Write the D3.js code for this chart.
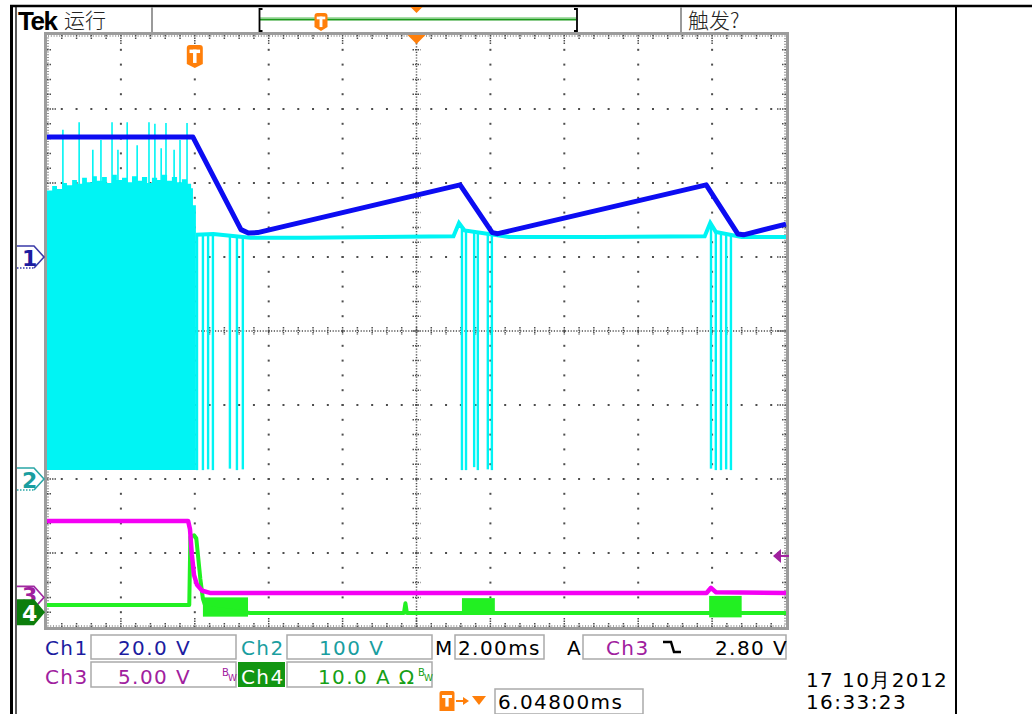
<!DOCTYPE html>
<html>
<head>
<meta charset="utf-8">
<script src="https://cdn.jsdelivr.net/npm/d3@7"></script>
<style>
  html, body { margin: 0; padding: 0; background: #fff; }
  svg { display: block; }
  text { font-family: "DejaVu Sans", Verdana, sans-serif; }
</style>
</head>
<body>
<svg id="scope" width="1032" height="714"></svg>
<script>
// ---------------- acquisition settings ----------------
const timeSpanMs = 20;                       // 10 div x 2.00 ms
const channelNames  = ["Ch1", "Ch2", "Ch3", "Ch4"];
const channelPerDiv = [20, 100, 5, 10];      // V/div, V/div, V/div, A/div
const channelGround = [1.0, -2.0, -3.6, -3.8];// ground marker, divisions from centre
const channelTrace  = ["#0c0cf2", "#00f4f4", "#f400f4", "#22f022"];

// ---------------- Ch1 (V) ----------------
const ch1Time = [0, 3.95, 5.25, 5.45, 5.7, 11.18, 12.05, 12.2, 17.84, 18.7, 18.85, 20];
const ch1Volt = [32.4, 32.4, 7.4, 6.5, 6.6, 19.5, 6.6, 6.3, 19.5, 6.2, 6.0, 8.9];

// ---------------- Ch2 (V) ----------------
// switching burst envelope before the turn-off
const ch2BurstTime = [0, 0.14, 0.27, 0.41, 0.54, 0.68, 0.81, 0.95, 1.08, 1.22, 1.35, 1.49, 1.62, 1.76,
                      1.89, 2.03, 2.17, 2.3, 2.44, 2.57, 2.71, 2.84, 2.98, 3.11, 3.25, 3.38, 3.52, 3.65,
                      3.79, 3.9, 3.95, 4.03];
const ch2BurstTop  = [390, 396, 392, 400, 397, 404, 399, 407, 401, 409, 403, 408, 400, 411,
                      404, 407, 401, 409, 403, 408, 400, 407, 404, 411, 403, 408, 401, 405,
                      399, 393, 370, 343];
const ch2BurstFloor = 12;
const ch2SpikeTime = [0.43, 0.87, 1.24, 1.46, 1.76, 1.92, 2.17, 2.44, 2.76, 2.92, 3.09, 3.22, 3.44, 3.6, 3.79];
const ch2SpikePeak = [472, 482, 445, 458, 482, 445, 482, 451, 482, 480, 447, 481, 445, 458, 481];
// steady level after the burst
const ch2Time = [4.03, 4.5, 5.5, 7, 9, 11.0, 11.15, 11.3, 12.1, 12.5, 15, 17.8, 17.95, 18.1, 18.8, 20];
const ch2Volt = [330, 331, 326, 326, 327, 328, 346, 336, 330, 327, 327, 328, 346, 334, 327, 327];
// drop-outs to the floor
const ch2DropTime  = [4.06, 4.22, 4.36, 4.49, 4.95, 5.14, 5.3,
                      11.23, 11.34, 11.56, 11.66, 11.93, 12.04,
                      17.97, 18.1, 18.24, 18.38, 18.51];
const ch2DropFloor = [12, 12, 13, 12, 14, 12, 13,
                      12, 12, 16, 12, 13, 12,
                      14, 12, 12, 13, 12];

// ---------------- Ch3 (V) ----------------
const ch3Time = [0, 3.82, 3.87, 3.92, 3.98, 4.06, 4.2, 4.41, 17.85, 17.97, 18.1, 20];
const ch3Volt = [5.16, 5.16, 4.6, 2.9, 1.5, 0.85, 0.45, 0.3, 0.3, 0.65, 0.35, 0.3];
const ch3TriggerLevel = 2.8;

// ---------------- Ch4 (A) ----------------
const ch4Time = [0, 3.85, 3.88, 3.98, 4.04, 4.1, 4.15, 4.22, 4.3, 5.5, 9.66, 9.7, 9.74, 20];
const ch4Amp  = [0.97, 0.97, 10.2, 10.4, 10.0, 7.0, 4.5, 1.8, 0.6, -0.1, -0.1, 1.2, -0.1, -0.1];
const ch4BurstStart = [4.22, 11.23, 17.92];
const ch4BurstEnd   = [5.44, 12.12, 18.8];
const ch4BurstHigh  = [2.0, 1.9, 2.2];
const ch4BurstLow   = [-0.6, -0.3, -0.7];

// ---------------- read-outs ----------------
const row1Values = ["20.0 V", "100 V"];
const row2Values = ["5.00 V", "10.0 A Ω"];
const timebaseLabel = "2.00ms";
const triggerLabel = "2.80 V";
const delayLabel = "6.04800ms";
const dateLabel = "17 10月2012";
const clockLabel = "16:33:23";

// ---------------- geometry & scales ----------------
const svg = d3.select("#scope");
const plot = { left: 47, right: 786, top: 35, bottom: 627 };
const xDiv = d3.scaleLinear().domain([0, 10]).range([plot.left, plot.right]);
const yDiv = d3.scaleLinear().domain([-4, 4]).range([plot.bottom, plot.top]);
const xTime = d3.scaleLinear().domain([0, timeSpanMs]).range([plot.left, plot.right]);
const yChan = i => v => yDiv(channelGround[i] + v / channelPerDiv[i]);

const orange = "#ff7f0a";
const labelColors = ["#1c1ca0", "#1a9ea0", "#a0209e", "#16a016"];

// ---------------- outer frame ----------------
svg.append("line").attr("x1", 10).attr("x2", 1032).attr("y1", 6).attr("y2", 6)
   .attr("stroke", "#000").attr("stroke-width", 2.5);
svg.append("line").attr("x1", 11.5).attr("x2", 11.5).attr("y1", 5).attr("y2", 714)
   .attr("stroke", "#000").attr("stroke-width", 3);
svg.append("line").attr("x1", 16).attr("x2", 16).attr("y1", 5).attr("y2", 714)
   .attr("stroke", "#000").attr("stroke-width", 1.3);
svg.append("line").attr("x1", 956).attr("x2", 956).attr("y1", 5).attr("y2", 714)
   .attr("stroke", "#000").attr("stroke-width", 2);

// ---------------- status bar ----------------
const head = svg.append("g");
head.append("text").attr("x", 18).attr("y", 30).text("Tek")
    .style("font-family", "'Liberation Sans', Arial, sans-serif").style("font-weight", "bold")
    .style("font-size", "26px").style("letter-spacing", "-1.5px").attr("fill", "#000");
head.append("text").attr("x", 64).attr("y", 28).text("运行")
    .style("font-family", "'Noto Sans CJK SC', sans-serif").style("font-weight", 300)
    .style("font-size", "21px").attr("fill", "#222");
[152, 681].forEach(xp => head.append("line").attr("x1", xp).attr("x2", xp).attr("y1", 7).attr("y2", 33)
    .attr("stroke", "#9a9a9a").attr("stroke-width", 2));
head.append("text").attr("x", 688).attr("y", 28).text("触发?")
    .style("font-family", "'Noto Sans CJK SC', sans-serif").style("font-weight", 300)
    .style("font-size", "21px").attr("fill", "#222");
// record-position bar
head.append("line").attr("x1", 260).attr("x2", 576).attr("y1", 17.5).attr("y2", 17.5)
    .attr("stroke", "#a8e0a8").attr("stroke-width", 1);
head.append("line").attr("x1", 260).attr("x2", 576).attr("y1", 19.5).attr("y2", 19.5)
    .attr("stroke", "#1c9a1c").attr("stroke-width", 1.8);
head.append("path").attr("d", "M262.5,9 H259.5 V31 H262.5").attr("fill", "none")
    .attr("stroke", "#000").attr("stroke-width", 1.8);
head.append("path").attr("d", "M574,9 H577 V31 H574").attr("fill", "none")
    .attr("stroke", "#000").attr("stroke-width", 1.8);
head.append("path").attr("d", `M${xTime(10) - 6},7 L${xTime(10) + 6},7 L${xTime(10)},13 Z`).attr("fill", orange);

function triggerBadge(parent, cx, top, w, h, pointed) {
  const l = cx - w / 2, r = cx + w / 2, b = top + h;
  const d = pointed
    ? `M${l},${top + 3} Q${l},${top} ${l + 3},${top} H${r - 3} Q${r},${top} ${r},${top + 3} V${b - 4} L${cx},${b} L${l},${b - 4} Z`
    : `M${l},${top + 2} Q${l},${top} ${l + 2},${top} H${r - 2} Q${r},${top} ${r},${top + 2} V${b} H${l} Z`;
  parent.append("path").attr("d", d).attr("fill", orange);
  parent.append("rect").attr("x", cx - w * 0.33).attr("y", top + h * 0.2).attr("width", w * 0.66)
        .attr("height", h * 0.15).attr("fill", "#fff");
  parent.append("rect").attr("x", cx - w * 0.11).attr("y", top + h * 0.2).attr("width", w * 0.22)
        .attr("height", h * 0.58).attr("fill", "#fff");
}
triggerBadge(head, 321, 13, 13, 18, true);

// ---------------- graticule ----------------
const grat = svg.append("g");
const dotColor = "#4d4d4d";
const minorX = d3.range(0, 10.0001, 0.2);
const minorY = d3.range(-4, 4.0001, 0.2);

// dots along the major division lines
const dots = [];
d3.range(1, 10).filter(k => k !== 5).forEach(k =>
  minorY.slice(1, -1).forEach(m => dots.push([xDiv(k), yDiv(m)])));
d3.range(-3, 4).filter(k => k !== 0).forEach(k =>
  minorX.slice(1, -1).forEach(m => dots.push([xDiv(m), yDiv(k)])));
grat.selectAll("rect.dot").data(dots).join("rect").attr("class", "dot")
  .attr("x", d => d[0] - 1).attr("y", d => d[1] - 1).attr("width", 2).attr("height", 2)
  .attr("fill", dotColor);

// centre cross with fine ticks
grat.append("line").attr("x1", xDiv(5)).attr("x2", xDiv(5)).attr("y1", plot.top).attr("y2", plot.bottom)
    .attr("stroke", dotColor).attr("stroke-width", 1.5).attr("stroke-dasharray", "1.2,1.6");
grat.append("line").attr("x1", plot.left).attr("x2", plot.right).attr("y1", yDiv(0)).attr("y2", yDiv(0))
    .attr("stroke", dotColor).attr("stroke-width", 1.5).attr("stroke-dasharray", "1.2,1.6");
grat.selectAll("line.cy").data(minorY.slice(1, -1)).join("line").attr("class", "cy")
    .attr("x1", xDiv(5) - 4).attr("x2", xDiv(5) + 4).attr("y1", d => yDiv(d)).attr("y2", d => yDiv(d))
    .attr("stroke", dotColor).attr("stroke-width", 1.5).attr("stroke-dasharray", "1.5,1");
grat.selectAll("line.cx").data(minorX.slice(1, -1)).join("line").attr("class", "cx")
    .attr("x1", d => xDiv(d)).attr("x2", d => xDiv(d)).attr("y1", yDiv(0) - 4).attr("y2", yDiv(0) + 4)
    .attr("stroke", dotColor).attr("stroke-width", 1.5).attr("stroke-dasharray", "1.5,1");

// edge ticks
const isMajor = v => Math.abs(v - Math.round(v)) < 1e-6;
const edgeTicks = [];
minorX.slice(1, -1).forEach(m => {
  const len = isMajor(m) ? 9 : 4;
  edgeTicks.push([xDiv(m), plot.top, xDiv(m), plot.top + len]);
  edgeTicks.push([xDiv(m), plot.bottom, xDiv(m), plot.bottom - len]);
});
minorY.slice(1, -1).forEach(m => {
  const len = isMajor(m) ? 9 : 4;
  edgeTicks.push([plot.left, yDiv(m), plot.left + len, yDiv(m)]);
  edgeTicks.push([plot.right, yDiv(m), plot.right - len, yDiv(m)]);
});
grat.selectAll("line.et").data(edgeTicks).join("line").attr("class", "et")
    .attr("x1", d => d[0]).attr("y1", d => d[1]).attr("x2", d => d[2]).attr("y2", d => d[3])
    .attr("stroke", dotColor).attr("stroke-width", 1.5).attr("stroke-dasharray", "1.5,1");
grat.append("rect").attr("x", plot.left + 1).attr("y", plot.top + 1)
    .attr("width", plot.right - plot.left - 2).attr("height", plot.bottom - plot.top - 2)
    .attr("fill", "none").attr("stroke", dotColor).attr("stroke-width", 1.2).attr("stroke-dasharray", "1,1.8");
grat.append("rect").attr("x", plot.left - 1.5).attr("y", plot.top - 1.5)
    .attr("width", plot.right - plot.left + 3).attr("height", plot.bottom - plot.top + 3)
    .attr("fill", "none").attr("stroke", "#9c9c9c").attr("stroke-width", 3);

// ---------------- waveforms ----------------
const traces = svg.append("g");

// Ch2: burst envelope, spikes, steady level and drop-outs
const y2 = yChan(1);
const burstArea = d3.area().curve(d3.curveStepAfter)
  .x(d => xTime(d[0])).y0(y2(ch2BurstFloor)).y1(d => y2(d[1]));
traces.append("path").datum(d3.zip(ch2BurstTime, ch2BurstTop))
  .attr("d", burstArea).attr("fill", channelTrace[1]);
traces.selectAll("line.sp").data(d3.zip(ch2SpikeTime, ch2SpikePeak)).join("line").attr("class", "sp")
  .attr("x1", d => xTime(d[0])).attr("x2", d => xTime(d[0]))
  .attr("y1", d => y2(d[1])).attr("y2", y2(390))
  .attr("stroke", channelTrace[1]).attr("stroke-width", 1.6);
const level2 = d3.scaleLinear().domain(ch2Time).range(ch2Volt);
traces.selectAll("line.dr").data(d3.zip(ch2DropTime, ch2DropFloor)).join("line").attr("class", "dr")
  .attr("x1", d => xTime(d[0])).attr("x2", d => xTime(d[0]))
  .attr("y1", d => y2(level2(d[0]))).attr("y2", d => y2(d[1]))
  .attr("stroke", channelTrace[1]).attr("stroke-width", 2.4);
traces.append("path").datum(d3.zip(ch2Time, ch2Volt))
  .attr("d", d3.line().x(d => xTime(d[0])).y(d => y2(d[1])))
  .attr("fill", "none").attr("stroke", channelTrace[1]).attr("stroke-width", 4);

// Ch1
const y1 = yChan(0);
traces.append("path").datum(d3.zip(ch1Time, ch1Volt))
  .attr("d", d3.line().x(d => xTime(d[0])).y(d => y1(d[1])))
  .attr("fill", "none").attr("stroke", channelTrace[0]).attr("stroke-width", 5)
  .attr("stroke-linejoin", "round");

// Ch4: bursts and trace
const y4 = yChan(3);
traces.selectAll("rect.b4").data(d3.range(ch4BurstStart.length)).join("rect").attr("class", "b4")
  .attr("x", i => xTime(ch4BurstStart[i])).attr("width", i => xTime(ch4BurstEnd[i]) - xTime(ch4BurstStart[i]))
  .attr("y", i => y4(ch4BurstHigh[i])).attr("height", i => y4(ch4BurstLow[i]) - y4(ch4BurstHigh[i]))
  .attr("fill", channelTrace[3]);
traces.append("path").datum(d3.zip(ch4Time, ch4Amp))
  .attr("d", d3.line().x(d => xTime(d[0])).y(d => y4(d[1])))
  .attr("fill", "none").attr("stroke", channelTrace[3]).attr("stroke-width", 4)
  .attr("stroke-linejoin", "round");

// Ch3
const y3 = yChan(2);
traces.append("path").datum(d3.zip(ch3Time, ch3Volt))
  .attr("d", d3.line().x(d => xTime(d[0])).y(d => y3(d[1])))
  .attr("fill", "none").attr("stroke", channelTrace[2]).attr("stroke-width", 4.5)
  .attr("stroke-linejoin", "round");

// ---------------- markers ----------------
const marks = svg.append("g");
// trigger position badge and pointer
triggerBadge(marks, xTime(4.0), 45, 16, 23, true);
marks.append("path").attr("d", `M${xTime(10) - 9},${plot.top} L${xTime(10) + 9},${plot.top} L${xTime(10)},${plot.top + 9} Z`)
  .attr("fill", orange);
// trigger level
const yTrig = y3(ch3TriggerLevel);
marks.append("path").attr("d", `M773,${yTrig} L781,${yTrig - 7} L781,${yTrig + 7} Z`).attr("fill", "#a0209e");
marks.append("line").attr("x1", 780).attr("x2", 789).attr("y1", yTrig).attr("y2", yTrig)
  .attr("stroke", "#a0209e").attr("stroke-width", 2);

// channel ground markers
function groundMarker(i, outline, label, filled, dy) {
  const yc = yDiv(channelGround[i]);
  const g = marks.append("g");
  if (filled) {
    g.append("path").attr("d", `M17,${yc - 13} H34 L45,${yc} L34,${yc + 13} H17 Z`).attr("fill", outline);
  } else {
    g.append("path").attr("d", `M17,${yc - 11} H34 L44,${yc} L34,${yc + 11}`).attr("fill", "#fff")
      .attr("stroke", outline).attr("stroke-width", 1.6);
    g.append("line").attr("x1", 17).attr("x2", 34).attr("y1", yc + 11).attr("y2", yc + 11)
      .attr("stroke", outline).attr("stroke-width", 1.6).attr("stroke-dasharray", "1.5,1.5");
  }
  g.append("text").attr("x", 22).attr("y", yc + dy).text(label)
    .style("font-size", "22px").style("font-weight", "bold")
    .attr("fill", filled ? "#fff" : labelColors[i]);
}
groundMarker(0, "#3a3aa8", "1", false, 9);
groundMarker(1, "#2aa6a6", "2", false, 9);
groundMarker(2, "#a02aa0", "3", false, 6);
groundMarker(3, "#0c7e0c", "4", true, 9);

// ---------------- read-out panel ----------------
const panel = svg.append("g").style("font-size", "20px").style("letter-spacing", "1.4px");
function box(x0, x1, y0, y1) {
  panel.append("rect").attr("x", x0).attr("y", y0).attr("width", x1 - x0).attr("height", y1 - y0)
    .attr("fill", "#fff").attr("stroke", "#aaaaaa").attr("stroke-width", 1.5);
}
function label(x, y, s, color) {
  return panel.append("text").attr("x", x).attr("y", y).text(s).attr("fill", color);
}
function bwMark(x, y, color) {
  panel.append("text").attr("x", x).attr("y", y - 8).text("B").attr("fill", color)
    .style("font-size", "10px").style("letter-spacing", "0px");
  panel.append("text").attr("x", x + 6).attr("y", y - 3).text("W").attr("fill", color)
    .style("font-size", "9px").style("letter-spacing", "0px");
}
// row 1
label(45, 655, channelNames[0], labelColors[0]);
box(91, 236, 635, 659); label(118, 655, row1Values[0], labelColors[0]);
label(241, 655, channelNames[1], labelColors[1]);
box(287, 432, 635, 659); label(319, 655, row1Values[1], labelColors[1]);
label(435, 655, "M", "#000");
box(455, 544, 635, 659); label(458, 655, timebaseLabel, "#000");
label(567, 655, "A", "#000");
box(583, 786, 635, 659); label(606, 655, channelNames[2], labelColors[2]);
panel.append("path").attr("d", "M663,642 H671 L674,652 H681").attr("fill", "none")
  .attr("stroke", "#000").attr("stroke-width", 2.5);
label(715, 655, triggerLabel, "#000");
// row 2
label(45, 684, channelNames[2], labelColors[2]);
box(91, 236, 662, 687); label(118, 684, row2Values[0], labelColors[2]);
bwMark(222, 684, labelColors[2]);
panel.append("rect").attr("x", 238).attr("y", 662).attr("width", 47).attr("height", 25).attr("fill", "#129612");
label(241, 684, channelNames[3], "#fff");
box(287, 432, 662, 687); label(318, 684, row2Values[1], labelColors[3]);
bwMark(418, 684, labelColors[3]);
// row 3
triggerBadge(panel, 447, 691, 15, 20, false);
panel.append("line").attr("x1", 456).attr("x2", 466).attr("y1", 701).attr("y2", 701)
  .attr("stroke", orange).attr("stroke-width", 2);
panel.append("path").attr("d", "M463,697 L469,701 L463,705 Z").attr("fill", orange);
panel.append("path").attr("d", "M472,696 L486,696 L479,705 Z").attr("fill", orange);
box(495, 643, 689, 714); label(498, 709, delayLabel, "#000");
// date / time
label(806, 687, dateLabel, "#000");
label(806, 709, clockLabel, "#000");
</script>
</body>
</html>
